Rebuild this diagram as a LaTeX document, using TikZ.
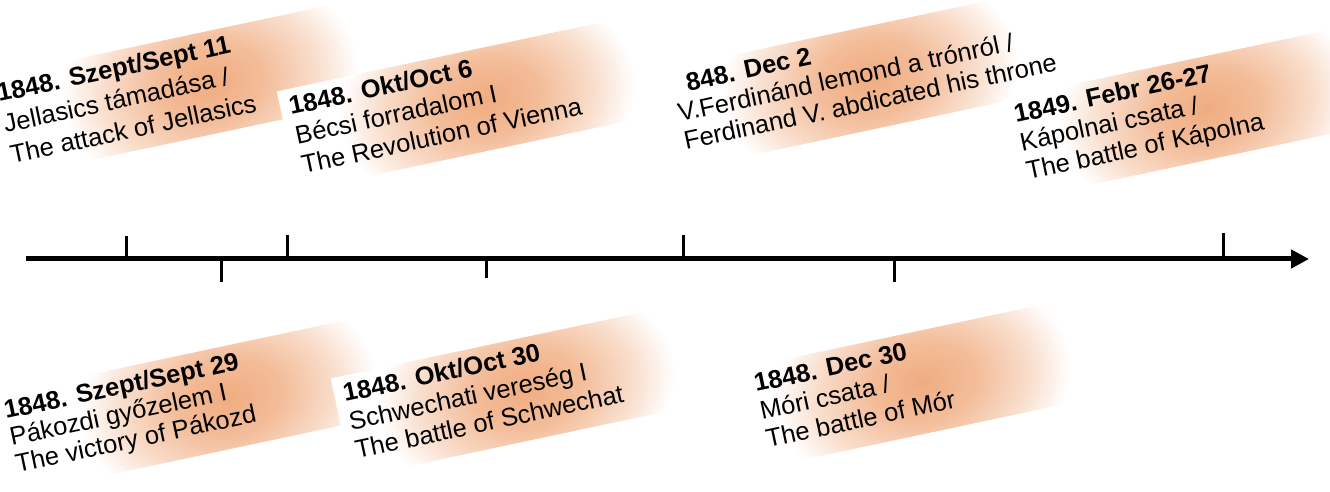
\documentclass[tikz,border=0pt]{standalone}
\usepackage{fontspec}
\setmainfont{Liberation Sans}
\usetikzlibrary{arrows.meta}
\definecolor{glowc}{RGB}{240,172,128}
\colorlet{glowm}{glowc!80!white}
\colorlet{glowl}{glowc!40!white}
\pgfdeclareradialshading{glow}{\pgfpoint{0bp}{0bp}}{color(0bp)=(glowc); color(9bp)=(glowm); color(18bp)=(glowl); color(25bp)=(white); color(50bp)=(white)}
\tikzset{
  evt/.style={anchor=base west, inner sep=0pt, font=\fontsize{25.5}{29}\selectfont},
  evtb/.style={anchor=base west, inner sep=0pt, font=\fontsize{25.5}{29}\selectfont\bfseries},
  axis/.style={line width=5pt, -{Triangle[length=18pt,width=18pt]}},
  tick/.style={line width=3pt}
}
% #1 name, #2 #3 origin, #4 glow centre, #5 box length, #6-#8 lines, #9 line spacing
\newcommand{\evtblock}[9]{%
  \begin{scope}[transform canvas={shift={(#2pt,#3pt)},rotate=12}]
    \fill[white] (-9,26) rectangle (#5,-76);
    \begin{scope}
      \clip (-9,26) rectangle (#5,-76);
      \shade[shading=glow] (#4,-25) ellipse [x radius=150, y radius=108];
    \end{scope}
    \node[evtb] (#1a) at (0,0) {#6};
    \node[evt] (#1b) at (0,-#9) {#7};
    \node[evt] (#1c) at (0,-2*#9) {#8};
  \end{scope}}
\begin{document}
\begin{tikzpicture}[x=1pt,y=1pt]
\useasboundingbox (0,0) rectangle (1330,492);
% upper events
\evtblock{ea}{-1}{390}{210}{370}{1848. Szept/Sept 11}{Jellasics támadása /}{The attack of Jellasics}{31.5}
\evtblock{eb}{291}{377}{195}{360}{1848. Okt/Oct 6}{Bécsi forradalom I}{The Revolution of Vienna}{30}
\evtblock{ec}{674}{398}{195}{400}{\phantom{1}848. Dec 2}{V.Ferdinánd lemond a trónról /}{Ferdinand V. abdicated his throne}{28.5}
\evtblock{ed}{1016}{369}{190}{360}{1849. Febr 26-27}{Kápolnai csata /}{The battle of Kápolna}{29}
% lower events
\evtblock{ee}{6}{73}{222}{370}{1848. Szept/Sept 29}{Pákozdi győzelem I}{The victory of Pákozd}{27.5}
\evtblock{ef}{345}{90}{180}{360}{1848. Okt/Oct 30}{Schwechati vereség I}{The battle of Schwechat}{29}
\evtblock{eg}{756}{100}{165}{340}{1848. Dec 30}{Móri csata /}{The battle of Mór}{28.5}
% timeline
\coordinate (ts) at (26,233);
\coordinate (te) at (1309,233);
\draw[axis] (ts) -- (te);
\coordinate (t1a) at (126,233); \coordinate (t1b) at (126,256);
\coordinate (t2a) at (287,233); \coordinate (t2b) at (287,257);
\coordinate (t3a) at (683,233); \coordinate (t3b) at (683,257);
\coordinate (t4a) at (1223,233); \coordinate (t4b) at (1223,259);
\coordinate (b1a) at (221,233); \coordinate (b1b) at (221,210);
\coordinate (b2a) at (486,233); \coordinate (b2b) at (486,214);
\coordinate (b3a) at (894,233); \coordinate (b3b) at (894,210);
\draw[tick] (t1a) -- (t1b);
\draw[tick] (t2a) -- (t2b);
\draw[tick] (t3a) -- (t3b);
\draw[tick] (t4a) -- (t4b);
\draw[tick] (b1a) -- (b1b);
\draw[tick] (b2a) -- (b2b);
\draw[tick] (b3a) -- (b3b);
\end{tikzpicture}
\end{document}
